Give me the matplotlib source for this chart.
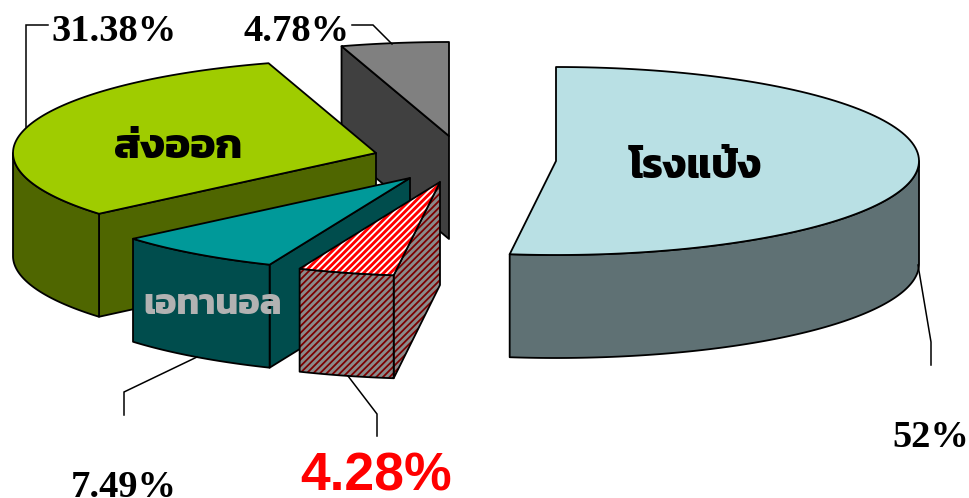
import numpy as np
import matplotlib
matplotlib.use("Agg")
import matplotlib.pyplot as plt
from matplotlib.patches import Polygon

# ---- data ----
shares = [52.0, 4.28, 7.49, 31.38, 4.78]
pct_labels = ["52%", "4.28%", "7.49%", "31.38%", "4.78%"]
names = ["โรงแป้ง", "", "เอทานอล", "ส่งออก", ""]

# ---- geometry and styles (pixels) ----
RX, RY, DEPTH = 363, 94, 103
apex = [(556, 161), (440, 182), (410, 178), (376, 153), (449, 136)]
top_col = ["#B9E0E4", "#FF0000", "#009999", "#9FCC00", "#808080"]
side_col = ["#5F7174", "#8A8A8A", "#004D4D", "#4F6600", "#404040"]
draw_order = [4, 3, 2, 1, 0]
HATCHED = 1
LINE_W = 1.3

THAI_FAMILY = ["Kanit", "Noto Sans", "DejaVu Sans"]

plt.rcParams["hatch.linewidth"] = 1.3
fig = plt.figure(figsize=(9.69, 4.98), dpi=100)
ax = fig.add_axes([0, 0, 1, 1])
ax.set_xlim(0, 969)
ax.set_ylim(498, 0)
ax.axis("off")

edges = np.concatenate([[0], np.cumsum(shares)]) / sum(shares) * 360


def pt(c, deg):
    t = np.radians(deg)
    return c[0] + RX * np.sin(t), c[1] - RY * np.cos(t)


def arc(c, a, b, dy=0.0):
    x, y = pt(c, np.linspace(a, b, 120))
    return np.column_stack([x, y + dy])


def add_face(poly, face, z, hatch_col=None):
    ax.add_patch(Polygon(poly, closed=True, fc=face, ec="none", zorder=z))
    if hatch_col:
        ax.add_patch(Polygon(poly, closed=True, fc="none", ec=hatch_col, lw=0,
                             hatch="/////", zorder=z))
    ax.add_patch(Polygon(poly, closed=True, fc="none", ec="black", lw=LINE_W,
                         joinstyle="round", zorder=z))


for z, i in enumerate(draw_order):
    c, a, b = apex[i], edges[i], edges[i + 1]
    side_hatch = "#7A0000" if i == HATCHED else None
    top_hatch = "white" if i == HATCHED else None
    # radial cut face, visible below the slice's leading edge
    if i != 0:
        p = pt(c, a)
        add_face([c, p, (p[0], p[1] + DEPTH), (c[0], c[1] + DEPTH)],
                 side_col[i], z, side_hatch)
    # outer wall: only the part that faces the viewer
    lo, hi = max(a, 90), min(b, 270)
    if lo < hi:
        add_face(np.vstack([arc(c, lo, hi), arc(c, lo, hi, DEPTH)[::-1]]),
                 side_col[i], z, side_hatch)
    # top surface
    add_face(np.vstack([[c], arc(c, a, b)]), top_col[i], z, top_hatch)

# leader lines
leaders = [
    [(918, 265), (931, 342), (931, 365)],
    [(348, 376), (377, 414), (377, 436)],
    [(197, 357), (124, 392), (124, 415)],
    [(26, 127), (26, 25), (48, 25)],
    [(352, 25), (373, 25), (392, 44)],
]
for ln in leaders:
    xs, ys = zip(*ln)
    ax.plot(xs, ys, color="black", lw=1.1, zorder=30, solid_joinstyle="miter")

# percentage labels
lab_pos = [(930.5, 447), (376, 490), (124, 497), (114.5, 41), (297, 41)]
for i, (s, (x, y)) in enumerate(zip(pct_labels, lab_pos)):
    if i == HATCHED:
        ax.text(x, y, s, ha="center", va="baseline", color="#FF0000",
                family="Liberation Sans", weight="bold", fontsize=38.5, zorder=31)
    else:
        ax.text(x, y, s, ha="center", va="baseline", color="black",
                family="Liberation Serif", weight="bold", fontsize=27.7, zorder=31)

# category labels
name_pos = [(695, 168), None, (213, 305), (178, 148), None]
name_col = ["black", None, "#B2B2B2", "black", None]
name_size = [29.5, None, 26, 30.5, None]
for s, p, col, sz in zip(names, name_pos, name_col, name_size):
    if p:
        ax.text(p[0], p[1], s, ha="center", va="center", color=col,
                family=THAI_FAMILY, weight="bold", fontsize=sz, zorder=31)

fig.savefig("out.png", dpi=100)
